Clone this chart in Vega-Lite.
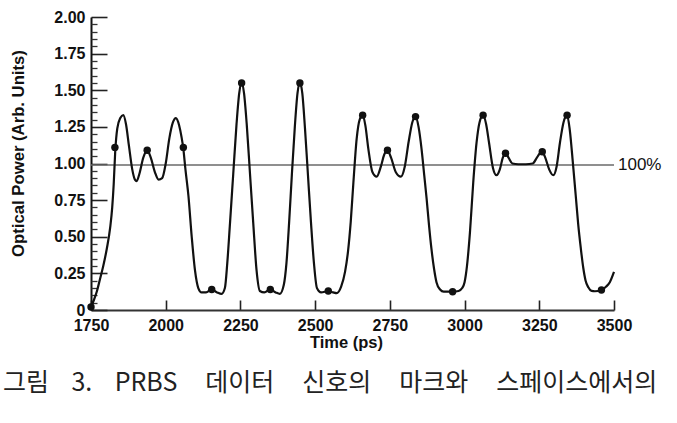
{
  "$schema": "https://vega.github.io/schema/vega-lite/v6.json",
  "width": 523,
  "height": 293,
  "autosize": {"type": "none"},
  "padding": {"left": 91, "top": 17, "right": 63, "bottom": 113},
  "background": "white",
  "title": {
    "text": "그림\u00a0\u00a0\u00a0 3.\u00a0\u00a0\u00a0 PRBS\u00a0\u00a0\u00a0\u00a0 데이터\u00a0\u00a0\u00a0\u00a0 신호의\u00a0\u00a0\u00a0\u00a0 마크와\u00a0\u00a0\u00a0\u00a0 스페이스에서의",
    "orient": "bottom",
    "anchor": "start",
    "frame": "group",
    "dx": -88,
    "offset": 20,
    "font": "Noto Sans CJK KR",
    "fontSize": 25,
    "fontWeight": "normal",
    "color": "#222"
  },
  "datasets": {
    "curve": [
      {"t": 1750, "v": 0.02}, {"t": 1760, "v": 0.07}, {"t": 1770, "v": 0.13}, {"t": 1780, "v": 0.21},
      {"t": 1791, "v": 0.30}, {"t": 1803, "v": 0.42}, {"t": 1814, "v": 0.56}, {"t": 1821, "v": 0.70},
      {"t": 1826, "v": 0.86}, {"t": 1831, "v": 1.08}, {"t": 1838, "v": 1.24}, {"t": 1848, "v": 1.31},
      {"t": 1858, "v": 1.33}, {"t": 1867, "v": 1.27}, {"t": 1877, "v": 1.12}, {"t": 1888, "v": 0.96},
      {"t": 1897, "v": 0.89}, {"t": 1903, "v": 0.88}, {"t": 1912, "v": 0.93}, {"t": 1925, "v": 1.04},
      {"t": 1938, "v": 1.09}, {"t": 1950, "v": 1.04}, {"t": 1964, "v": 0.94}, {"t": 1976, "v": 0.89},
      {"t": 1988, "v": 0.90}, {"t": 2000, "v": 1.00}, {"t": 2012, "v": 1.17}, {"t": 2024, "v": 1.28},
      {"t": 2034, "v": 1.31}, {"t": 2045, "v": 1.26}, {"t": 2053, "v": 1.18}, {"t": 2059, "v": 1.10},
      {"t": 2066, "v": 0.96}, {"t": 2076, "v": 0.78}, {"t": 2087, "v": 0.50}, {"t": 2098, "v": 0.27},
      {"t": 2109, "v": 0.15}, {"t": 2120, "v": 0.12}, {"t": 2135, "v": 0.12}, {"t": 2154, "v": 0.14},
      {"t": 2172, "v": 0.12}, {"t": 2187, "v": 0.11}, {"t": 2198, "v": 0.15}, {"t": 2206, "v": 0.32},
      {"t": 2215, "v": 0.59}, {"t": 2226, "v": 0.93}, {"t": 2237, "v": 1.27}, {"t": 2246, "v": 1.48},
      {"t": 2254, "v": 1.55}, {"t": 2262, "v": 1.48}, {"t": 2271, "v": 1.27}, {"t": 2282, "v": 0.93},
      {"t": 2293, "v": 0.59}, {"t": 2304, "v": 0.27}, {"t": 2315, "v": 0.13}, {"t": 2330, "v": 0.12},
      {"t": 2350, "v": 0.14}, {"t": 2368, "v": 0.12}, {"t": 2382, "v": 0.11}, {"t": 2395, "v": 0.17},
      {"t": 2404, "v": 0.32}, {"t": 2413, "v": 0.60}, {"t": 2422, "v": 0.92}, {"t": 2432, "v": 1.25},
      {"t": 2441, "v": 1.48}, {"t": 2449, "v": 1.55}, {"t": 2457, "v": 1.48}, {"t": 2466, "v": 1.24},
      {"t": 2476, "v": 0.92}, {"t": 2486, "v": 0.60}, {"t": 2496, "v": 0.32}, {"t": 2506, "v": 0.15},
      {"t": 2520, "v": 0.12}, {"t": 2544, "v": 0.13}, {"t": 2560, "v": 0.12}, {"t": 2572, "v": 0.115},
      {"t": 2587, "v": 0.16}, {"t": 2600, "v": 0.26}, {"t": 2610, "v": 0.40}, {"t": 2619, "v": 0.60},
      {"t": 2628, "v": 0.87}, {"t": 2639, "v": 1.17}, {"t": 2649, "v": 1.30}, {"t": 2659, "v": 1.33},
      {"t": 2668, "v": 1.26}, {"t": 2678, "v": 1.10}, {"t": 2692, "v": 0.94}, {"t": 2706, "v": 0.91},
      {"t": 2720, "v": 0.98}, {"t": 2731, "v": 1.06}, {"t": 2742, "v": 1.09}, {"t": 2754, "v": 1.04},
      {"t": 2770, "v": 0.94}, {"t": 2787, "v": 0.91}, {"t": 2800, "v": 0.98}, {"t": 2813, "v": 1.15},
      {"t": 2825, "v": 1.28}, {"t": 2836, "v": 1.32}, {"t": 2846, "v": 1.25}, {"t": 2856, "v": 1.10},
      {"t": 2865, "v": 0.92}, {"t": 2873, "v": 0.76}, {"t": 2881, "v": 0.58}, {"t": 2889, "v": 0.42},
      {"t": 2898, "v": 0.28}, {"t": 2906, "v": 0.19}, {"t": 2918, "v": 0.14}, {"t": 2930, "v": 0.125},
      {"t": 2960, "v": 0.125}, {"t": 2980, "v": 0.13}, {"t": 2992, "v": 0.15}, {"t": 3000, "v": 0.19},
      {"t": 3008, "v": 0.30}, {"t": 3018, "v": 0.53}, {"t": 3029, "v": 0.87}, {"t": 3040, "v": 1.14},
      {"t": 3050, "v": 1.28}, {"t": 3062, "v": 1.33}, {"t": 3072, "v": 1.27}, {"t": 3082, "v": 1.14},
      {"t": 3095, "v": 0.97}, {"t": 3107, "v": 0.92}, {"t": 3118, "v": 0.96}, {"t": 3128, "v": 1.04},
      {"t": 3137, "v": 1.07}, {"t": 3147, "v": 1.04}, {"t": 3160, "v": 1.00}, {"t": 3180, "v": 0.995},
      {"t": 3205, "v": 0.995}, {"t": 3228, "v": 1.00}, {"t": 3242, "v": 1.04}, {"t": 3252, "v": 1.07},
      {"t": 3260, "v": 1.08}, {"t": 3270, "v": 1.04}, {"t": 3283, "v": 0.96}, {"t": 3297, "v": 0.92},
      {"t": 3308, "v": 0.98}, {"t": 3319, "v": 1.14}, {"t": 3331, "v": 1.28}, {"t": 3343, "v": 1.33},
      {"t": 3352, "v": 1.23}, {"t": 3363, "v": 0.99}, {"t": 3372, "v": 0.78}, {"t": 3380, "v": 0.59},
      {"t": 3389, "v": 0.42}, {"t": 3397, "v": 0.29}, {"t": 3405, "v": 0.20}, {"t": 3414, "v": 0.155},
      {"t": 3425, "v": 0.13}, {"t": 3436, "v": 0.128}, {"t": 3458, "v": 0.137}, {"t": 3474, "v": 0.16},
      {"t": 3486, "v": 0.19}, {"t": 3500, "v": 0.26}
    ],
    "dots": [
      {"t": 1750, "v": 0.02}, {"t": 1830, "v": 1.11}, {"t": 1938, "v": 1.09}, {"t": 2059, "v": 1.11},
      {"t": 2154, "v": 0.14}, {"t": 2254, "v": 1.55}, {"t": 2350, "v": 0.14}, {"t": 2449, "v": 1.55},
      {"t": 2544, "v": 0.13}, {"t": 2659, "v": 1.33}, {"t": 2742, "v": 1.09}, {"t": 2836, "v": 1.32},
      {"t": 2960, "v": 0.125}, {"t": 3062, "v": 1.33}, {"t": 3137, "v": 1.07}, {"t": 3260, "v": 1.08},
      {"t": 3343, "v": 1.33}, {"t": 3458, "v": 0.137}
    ],
    "ref": [{"t": 3500, "v": 0.99, "label": "100%"}]
  },
  "resolve": {"axis": {"y": "independent"}},
  "layer": [
    {
      "data": {"name": "ref"},
      "mark": {"type": "rule", "color": "#6a6a6a", "strokeWidth": 1.5},
      "encoding": {
        "y": {"field": "v", "type": "quantitative", "scale": {"domain": [0, 2], "nice": false}, "axis": null}
      }
    },
    {
      "data": {"name": "curve"},
      "mark": {"type": "line", "color": "#111", "strokeWidth": 2.2, "interpolate": "monotone"},
      "encoding": {
        "x": {
          "field": "t", "type": "quantitative",
          "scale": {"domain": [1750, 3500], "nice": false, "zero": false},
          "axis": {
            "orient": "bottom",
            "values": [1750, 2000, 2250, 2500, 2750, 3000, 3250, 3500],
            "format": "d",
            "title": "Time (ps)",
            "grid": false,
            "ticks": true, "tickSize": -10, "tickWidth": 1.6, "tickColor": "#222",
            "labelPadding": 17,
            "domainColor": "#333", "domainWidth": 2,
            "labelFont": "Liberation Sans", "labelFontWeight": "bold", "labelFontSize": 16, "labelColor": "#111",
            "labelFlush": false,
            "titleFont": "Liberation Sans", "titleFontWeight": "bold", "titleFontSize": 16.5, "titleColor": "#111",
            "titleX": 255, "titleY": 24, "titleBaseline": "top", "titleAlign": "center"
          }
        },
        "y": {
          "field": "v", "type": "quantitative",
          "scale": {"domain": [0, 2], "nice": false},
          "axis": {
            "orient": "left",
            "values": [0, 0.25, 0.5, 0.75, 1, 1.25, 1.5, 1.75, 2],
            "labelExpr": "datum.value == 0 ? '0' : format(datum.value, '.2f')",
            "title": "Optical Power (Arb. Units)",
            "grid": false,
            "ticks": true, "tickSize": -16, "tickWidth": 1.6, "tickColor": "#222",
            "labelPadding": 22,
            "domainColor": "#111", "domainWidth": 2,
            "labelFont": "Liberation Sans", "labelFontWeight": "bold", "labelFontSize": 16, "labelColor": "#111",
            "labelFlush": false,
            "titleFont": "Liberation Sans", "titleFontWeight": "bold", "titleFontSize": 16.7, "titleColor": "#111",
            "titleX": -64, "titleY": 136, "titleAlign": "center", "titleBaseline": "bottom", "titleAngle": 270
          }
        }
      }
    },
    {
      "data": {"name": "dots"},
      "mark": {"type": "point", "filled": true, "color": "#111", "size": 55, "opacity": 1},
      "encoding": {
        "x": {"field": "t", "type": "quantitative", "scale": {"domain": [1750, 3500], "nice": false, "zero": false}},
        "y": {
          "field": "v", "type": "quantitative",
          "scale": {"domain": [0, 2], "nice": false},
          "axis": {
            "orient": "left",
            "values": [0.05, 0.1, 0.15, 0.2, 0.3, 0.35, 0.4, 0.45, 0.55, 0.6, 0.65, 0.7, 0.8, 0.85, 0.9, 0.95, 1.05, 1.1, 1.15, 1.2, 1.3, 1.35, 1.4, 1.45, 1.55, 1.6, 1.65, 1.7, 1.8, 1.85, 1.9, 1.95],
            "labels": false, "domain": false, "grid": false, "title": null,
            "ticks": true, "tickSize": -6, "tickWidth": 1.3, "tickColor": "#333"
          }
        }
      }
    },
    {
      "data": {"name": "ref"},
      "mark": {"type": "text", "align": "left", "baseline": "middle", "dx": 4, "font": "Liberation Sans", "fontSize": 17, "color": "#111"},
      "encoding": {
        "x": {"field": "t", "type": "quantitative", "scale": {"domain": [1750, 3500], "nice": false, "zero": false}},
        "y": {"field": "v", "type": "quantitative", "scale": {"domain": [0, 2], "nice": false}, "axis": null},
        "text": {"field": "label"}
      }
    }
  ],
  "config": {"view": {"stroke": null}}
}
